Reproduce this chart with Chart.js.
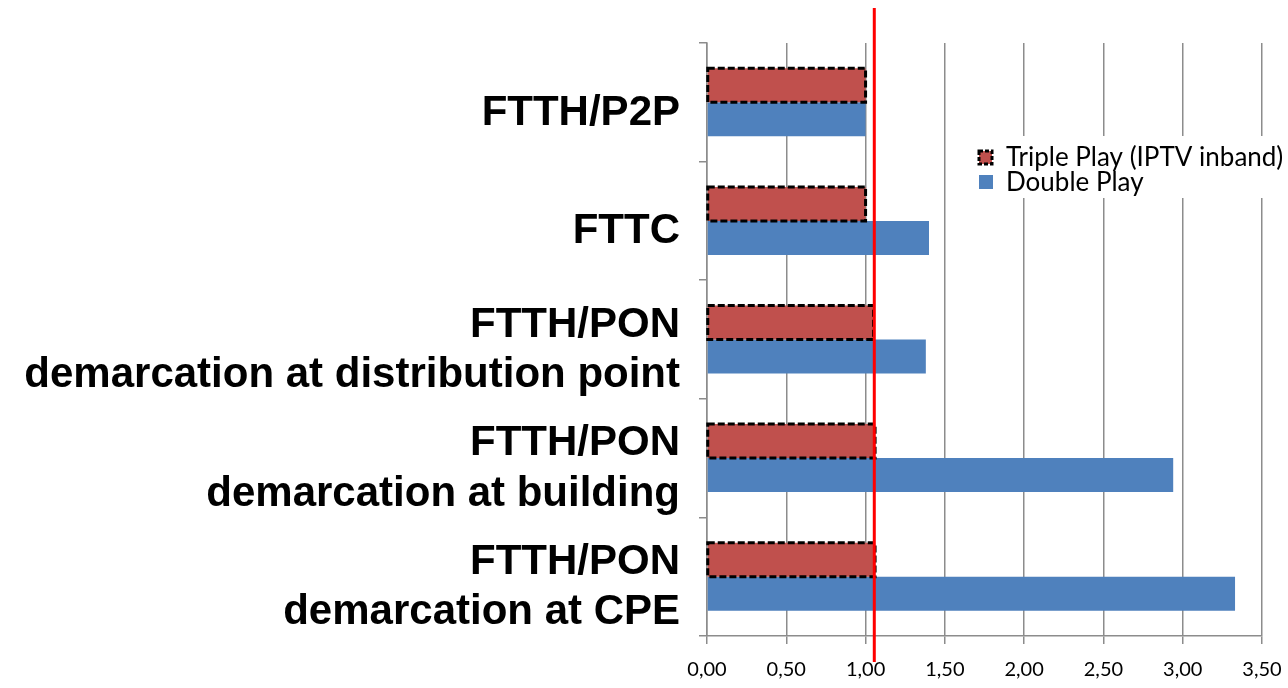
<!DOCTYPE html>
<html>
<head>
<meta charset="utf-8">
<script src="https://cdn.jsdelivr.net/npm/chart.js@4.4.1/dist/chart.umd.min.js"></script>
<style>
  html, body { margin: 0; padding: 0; background: #fff; }
  canvas { display: block; }
</style>
</head>
<body>
<canvas id="fttxChart" width="1288" height="688"></canvas>
<script>
// categories (top to bottom) and values
const categories = [
    ['FTTH/P2P'],
    ['FTTC'],
    ['FTTH/PON', 'demarcation at distribution point'],
    ['FTTH/PON', 'demarcation at building'],
    ['FTTH/PON', 'demarcation at CPE']
];
const seriesNames = ['Triple Play (IPTV inband)', 'Double Play'];
const triplePlay = [1.00, 1.00, 1.05, 1.06, 1.06];
const doublePlay = [1.00, 1.40, 1.38, 2.94, 3.33];
const xTicks = [0, 0.5, 1, 1.5, 2, 2.5, 3, 3.5];
const refValue = 1.055;

const RED = '#C0504D';
const BLUE = '#4F81BD';
const GRID = '#8c8c8c';

function fmt(v) { return v.toFixed(2).replace('.', ','); }

// dashed outline on the triple play bars (bar elements have no borderDash)
const dashedBars = {
    id: 'dashedBars',
    afterDatasetsDraw(chart) {
        const ctx = chart.ctx;
        const meta = chart.getDatasetMeta(0);
        ctx.save();
        ctx.strokeStyle = '#000';
        ctx.lineWidth = 3;
        ctx.setLineDash([7, 3]);
        meta.data.forEach(bar => {
            const p = bar.getProps(['x', 'y', 'base', 'height'], true);
            ctx.strokeRect(p.base, p.y - p.height / 2, p.x - p.base, p.height);
        });
        ctx.restore();
    }
};

// red vertical reference line + legend box on the right
const overlay = {
    id: 'overlay',
    afterDraw(chart) {
        const ctx = chart.ctx;
        const x = chart.scales.x.getPixelForValue(refValue);
        ctx.save();
        ctx.strokeStyle = '#FF0000';
        ctx.lineWidth = 3;
        ctx.beginPath();
        ctx.moveTo(x, 8);
        ctx.lineTo(x, 662);
        ctx.stroke();

        // legend
        ctx.fillStyle = '#fff';
        ctx.fillRect(970, 136, 318, 62);
        ctx.font = '26px Lato, "Liberation Sans", sans-serif';
        ctx.textBaseline = 'middle';
        ctx.fillStyle = RED;
        ctx.fillRect(979, 151, 13, 13);
        ctx.strokeStyle = '#000';
        ctx.lineWidth = 3;
        ctx.setLineDash([4, 2]);
        ctx.strokeRect(979, 151, 13, 13);
        ctx.setLineDash([]);
        ctx.fillStyle = BLUE;
        ctx.fillRect(979, 175, 14, 14);
        ctx.fillStyle = '#000';
        ctx.fillText(seriesNames[0], 1006, 158);
        ctx.fillText(seriesNames[1], 1006, 183);
        ctx.restore();
    }
};

const chart = new Chart(document.getElementById('fttxChart'), {
    type: 'bar',
    data: {
        labels: categories,
        datasets: [
            { label: seriesNames[0], data: triplePlay, backgroundColor: RED, borderWidth: 0,
              categoryPercentage: 0.573, barPercentage: 1.0 },
            { label: seriesNames[1], data: doublePlay, backgroundColor: BLUE, borderWidth: 0,
              categoryPercentage: 0.573, barPercentage: 1.0 }
        ]
    },
    options: {
        indexAxis: 'y',
        responsive: false,
        animation: false,
        layout: { padding: { top: 43, right: 26, left: 0, bottom: 0 } },
        plugins: { legend: { display: false }, tooltip: { enabled: false } },
        scales: {
            x: {
                min: 0, max: 3.5,
                afterBuildTicks: s => { s.ticks = xTicks.map(v => ({ value: v })); },
                afterFit: s => { s.height = 52; s.paddingLeft = 0; s.paddingRight = 0; },
                grid: { color: GRID, lineWidth: 1.5, tickLength: 8 },
                border: { color: GRID, width: 1.5 },
                ticks: {
                    callback: v => fmt(v),
                    color: '#000',
                    padding: 14,
                    font: { family: 'Lato, "Liberation Sans", sans-serif', size: 20 }
                }
            },
            y: {
                afterFit: s => { s.width = 707; s.paddingTop = 0; s.paddingBottom = 0; },
                grid: { offset: true, drawOnChartArea: false, color: GRID, lineWidth: 1.5, tickLength: 8 },
                border: { color: GRID, width: 1.5 },
                ticks: {
                    autoSkip: false,
                    color: '#000',
                    padding: 19,
                    labelOffset: 11,
                    font: { family: '"Liberation Sans", Arial, sans-serif', size: 42, weight: 'bold', lineHeight: 1.2 }
                }
            }
        }
    },
    plugins: [dashedBars, overlay]
});
</script>
</body>
</html>
